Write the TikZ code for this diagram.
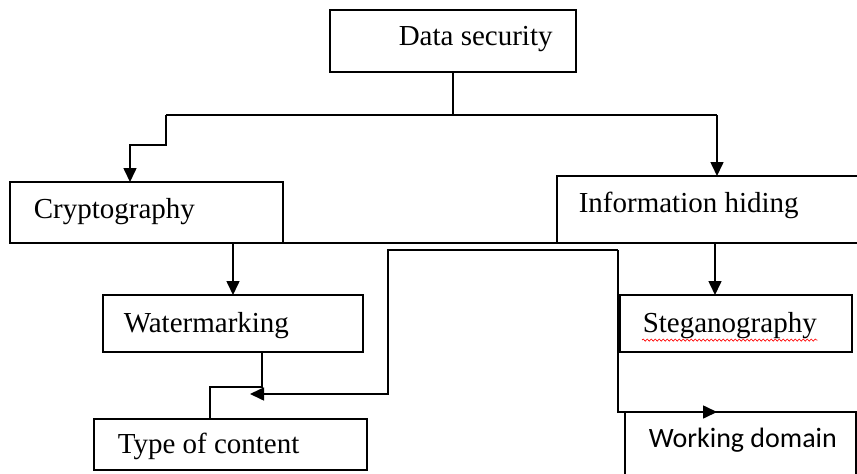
\documentclass[tikz,border=0pt]{standalone}
\usepackage{fontspec}
\setmainfont{Liberation Serif}
\newfontfamily\calibrifont{Carlito}
\usetikzlibrary{arrows.meta,decorations.pathmorphing}

\begin{document}
\begin{tikzpicture}[x=1pt,y=-1pt,line width=1.6pt,
  box/.style={draw,rectangle,anchor=north west,inner sep=0pt,outer sep=0pt},
  lbl/.style={anchor=base west,inner sep=0pt,font=\fontsize{29}{34}\selectfont},
  arr/.style={-{Triangle[width=13pt,length=14pt]}}]

\useasboundingbox (0,0) rectangle (857,474);

% boxes
\node[box,minimum width=246pt,minimum height=62pt] (ds)     at (330,10)  {};
\node[box,minimum width=273pt,minimum height=61pt] (crypto) at (10,182)  {};
\node[box,minimum width=310pt,minimum height=67pt] (info)   at (557,176) {};
\node[box,minimum width=260pt,minimum height=57pt] (water)  at (103,295) {};
\node[box,minimum width=232pt,minimum height=57pt] (steg)   at (620,295) {};
\node[box,minimum width=273pt,minimum height=51pt] (toc)    at (94,419)  {};
\node[box,minimum width=231pt,minimum height=70pt] (wd)     at (625,412) {};

% labels
\node[lbl] (dst)     at (398,45)  {Data security};
\node[lbl] (cryptot) at (33,218)  {Cryptography};
\node[lbl] (infot)   at (578,212) {Information hiding};
\node[lbl] (watert)  at (123,332) {Watermarking};
\node[lbl] (stegt)   at (642,332) {Steganography};
\node[lbl] (toct)    at (117,453) {Type of content};
\node[lbl,font=\calibrifont\fontsize{28}{33}\selectfont] (wdt) at (648,447) {Working domain};

% spell-check squiggle under Steganography
\draw[red,line width=0.6pt,decorate,decoration={snake,amplitude=1.1pt,segment length=4pt}]
  ([yshift=-1pt]stegt.south west) -- ([yshift=-1pt]stegt.south east);

% top split
\coordinate (jL) at (166,115);
\coordinate (jR) at (717,115);
\coordinate (cIn) at (130,145);
\draw (ds.south) |- (jL);
\draw (jL) -- (jR);
\draw[arr] (jL) |- (cIn) -- (cIn |- crypto.north);
\draw[arr] (jR) -- (jR |- info.north);

% second level
\coordinate (bL) at (233,243);
\coordinate (bR) at (715,243);
\draw (bL) -- (bR);
\draw[arr] (bL) -- (bL |- water.north);
\draw[arr] (bR) -- (bR |- steg.north);

% routes to the bottom boxes
\coordinate (r1) at (618,250);
\coordinate (r2) at (388,250);
\coordinate (tocTip) at (250,394);
\coordinate (wdTip) at (717,412);
\draw[arr] (r1) -- (r2) |- (tocTip);
\draw[arr] (r1) |- (wdTip);

\coordinate (w1) at (262,387);
\coordinate (tIn) at (210,387);
\draw (w1 |- water.south) -- (w1) -- (tIn) -- (tIn |- toc.north);

\end{tikzpicture}
\end{document}
